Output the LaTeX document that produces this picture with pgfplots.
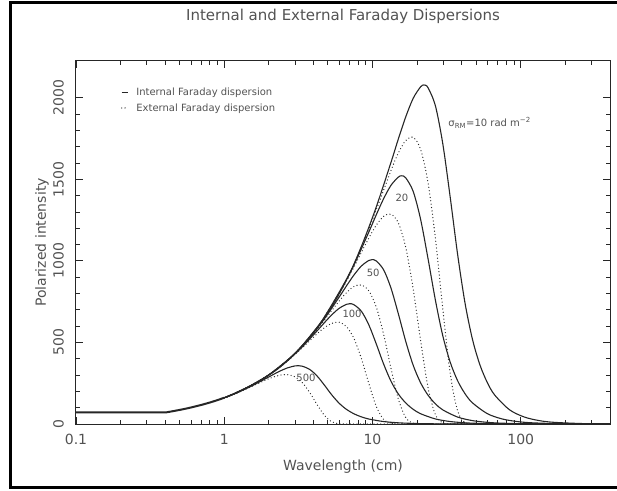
\documentclass[border=0pt]{standalone}
\usepackage{fontspec}
\setmainfont{DejaVu Sans}
\usepackage{pgfplots}
\pgfplotsset{compat=1.18}

\definecolor{ink}{gray}{0.15}
\definecolor{txt}{gray}{0.32}

\pgfplotsset{
  intcurve/.style={draw=ink, line width=1.1pt, smooth, no marks},
  extcurve/.style={draw=ink, line width=1.3pt, line cap=round, dash pattern=on 0pt off 3.4pt, smooth, no marks},
}

\begin{document}
\begin{tikzpicture}
\useasboundingbox (0pt,0pt) rectangle (617pt,490pt);
\draw[line width=3pt] (630pt,487.5pt) -- (10.5pt,487.5pt) -- (10.5pt,2.5pt) -- (630pt,2.5pt);
\begin{axis}[
  at={(76pt,66pt)}, anchor=south west,
  scale only axis, width=534pt, height=363pt,
  xmode=log, xmin=0.1, xmax=400, ymin=0, ymax=2225,
  axis line style={ink, line width=1pt},
  tick style={ink, line width=0.8pt},
  tick align=inside,
  major tick length=7pt, minor tick length=4pt,
  xtick={0.1,1,10,100}, xticklabels={0.1,1,10,100},
  minor xtick={0.2,0.3,0.4,0.5,0.6,0.7,0.8,0.9,2,3,4,5,6,7,8,9,20,30,40,50,60,70,80,90,200,300},
  ytick={0,500,1000,1500,2000}, minor y tick num=4,
  /pgf/number format/1000 sep={},
  /pgf/number format/assume math mode=true,
  ticklabel style={font=\fontsize{14}{16}\selectfont, text=txt},
  xticklabel style={anchor=north, inner sep=0pt},
  xticklabel shift=10pt,
  yticklabel style={rotate=90, anchor=south, inner sep=0pt},
  yticklabel shift=12pt,
  xlabel={Wavelength (cm)}, ylabel={Polarized intensity},
  title={Internal and External Faraday Dispersions},
  label style={font=\fontsize{14}{16}\selectfont, text=txt},
  xlabel style={at={(axis description cs:0.5,-0.1185)}, anchor=center},
  ylabel style={at={(axis description cs:-0.0637,0.5)}, anchor=center},
  title style={font=\fontsize{15}{18}\selectfont, text=txt, at={(axis description cs:0.5,1.1074)}, anchor=center},
  legend style={draw=none, fill=none, at={(axis description cs:0.084,0.928)}, anchor=north west,
    font=\fontsize{10}{12}\selectfont, text=txt, row sep=4pt, inner sep=0pt, nodes={inner sep=1pt},
    /tikz/every odd column/.append style={column sep=7pt}},
  legend cell align=left,
  legend image code/.code={\draw[#1] (0pt,0pt) -- (6pt,0pt);},
]
\addlegendimage{intcurve}
\addlegendentry{Internal Faraday dispersion}
\addlegendimage{extcurve}
\addlegendentry{External Faraday dispersion}

% common envelope below 1 cm
\addplot[draw=ink, line width=2pt, no marks, forget plot] coordinates {
 (0.1,72) (0.41,72) (0.45,78.5) (0.5,86.3) (0.55,94.0) (0.6,101.7) (0.7,116.8) (0.8,131.7) (0.9,146.4) (1,161)};

% sigma_RM = 10
\addplot[intcurve, forget plot] coordinates {
 (1,161) (1.678,256.5) (2.659,388.1) (4.215,587.0) (6.677,887.3) (8.409,1088) (10.59,1329) (13.33,1604)
 (14.95,1748) (16.78,1884) (18.83,1997) (21.12,2067) (22.27,2078) (23.70,2061) (26.59,1949) (29.83,1715)
 (33.47,1387) (37.55,1037) (42.14,738.4) (47.28,517.6) (53.05,362.3) (59.53,253.5) (66.77,177.3)
 (84.09,86.9) (105.9,42.5) (133.3,20.8) (167.8,10.2) (265.9,2.45) (400,0.69)};
\addplot[extcurve, forget plot] coordinates {
 (1,161) (1.678,256.5) (2.659,388.1) (4.215,586.7) (6.677,885.7) (8.409,1083) (10.59,1312) (13.33,1554)
 (14.95,1662) (16.78,1738) (18.83,1757) (21.12,1683) (23.70,1479) (26.59,1134) (29.83,700.8) (33.47,307.7)
 (37.55,78.6) (42.14,8.5) (47.28,0.2) (53.05,0) (100,0) (400,0)};

% sigma_RM = 20
\addplot[intcurve, forget plot] coordinates {
 (1,161) (1.186,187.8) (1.880,284.2) (2.980,429.7) (4.723,649.6) (5.946,796.7) (7.485,972.8) (9.423,1174.5)
 (10.57,1279.5) (11.86,1379.3) (13.31,1462.3) (14.94,1513.3) (15.75,1521.4) (16.76,1508.8) (18.80,1426.7)
 (21.10,1255.6) (23.67,1015.4) (26.56,759.5) (29.80,540.6) (33.43,379.0) (37.51,265.2) (42.10,185.5)
 (47.23,129.8) (59.46,63.6) (74.85,31.1) (94.23,15.3) (118.6,7.47) (188.0,1.79) (400,0.17)};
\addplot[extcurve, forget plot] coordinates {
 (1,161) (1.186,187.8) (1.880,284.2) (2.980,429.5) (4.723,648.4) (5.946,792.9) (7.485,960.8) (9.423,1138)
 (10.57,1216.5) (11.86,1272.5) (13.31,1286.5) (14.94,1232.1) (16.76,1082.7) (18.80,830.3) (21.10,513.0)
 (23.67,225.2) (26.56,57.5) (29.80,6.2) (33.43,0.2) (37.51,0) (70,0) (400,0)};

% sigma_RM = 50
\addplot[intcurve, forget plot] coordinates {
 (1,161) (1.189,188.2) (1.884,284.6) (2.987,430.3) (3.761,527.7) (4.733,644.3) (5.960,778.0) (6.687,847.5)
 (7.503,913.6) (8.418,968.6) (9.445,1002.4) (9.959,1007.8) (10.60,999.4) (11.89,945.0) (13.34,831.7)
 (14.97,672.6) (16.80,503.1) (18.85,358.1) (21.15,251.0) (23.73,175.7) (26.62,122.9) (29.87,86.0)
 (37.60,42.2) (47.34,20.6) (59.59,10.1) (75.03,4.95) (118.9,1.19) (400,0.03)};
\addplot[extcurve, forget plot] coordinates {
 (1,161) (1.189,188.2) (1.884,284.6) (2.987,429.5) (3.761,525.2) (4.733,636.4) (5.960,753.8) (6.687,805.8)
 (7.503,842.9) (8.418,852.2) (9.445,816.1) (10.60,717.2) (11.89,550.0) (13.34,339.8) (14.97,149.2)
 (16.80,38.1) (18.85,4.1) (21.15,0.1) (23.73,0) (50,0) (400,0)};

% sigma_RM = 100
\addplot[intcurve, forget plot] coordinates {
 (1,161) (1.332,208.3) (2.112,314.9) (2.659,386.2) (3.348,471.5) (4.215,569.3) (4.728,620.2) (5.305,668.5)
 (5.953,708.8) (6.677,733.5) (7.042,737.5) (7.493,731.3) (8.409,691.5) (9.434,608.6) (10.59,492.2)
 (11.88,368.1) (13.33,262.0) (14.95,183.7) (16.78,128.5) (18.83,89.9) (21.12,62.9) (26.59,30.9)
 (33.47,15.1) (42.14,7.4) (53.05,3.62) (84.09,0.87) (400,0)};
\addplot[extcurve, forget plot] coordinates {
 (1,161) (1.332,208.3) (2.112,314.3) (2.659,384.3) (3.348,465.7) (4.215,551.6) (4.728,589.7) (5.305,616.8)
 (5.953,623.6) (6.677,597.2) (7.493,524.8) (8.409,402.5) (9.434,248.7) (10.59,109.2) (11.88,27.9)
 (13.33,3.0) (14.95,0.1) (16.78,0) (40,0) (400,0)};

% sigma_RM = 500
\addplot[intcurve, forget plot] coordinates {
 (1,161) (1.190,187.3) (1.497,228.6) (1.885,276.1) (2.115,300.7) (2.373,324.2) (2.663,343.7) (2.988,355.7)
 (3.150,357.6) (3.352,354.6) (3.761,335.3) (4.220,295.1) (4.734,238.7) (5.312,178.5) (5.961,127.1)
 (6.688,89.1) (7.504,62.3) (8.420,43.6) (9.447,30.5) (11.89,15.0) (14.97,7.3) (18.85,3.6) (23.74,1.76)
 (37.61,0.42) (400,0)};
\addplot[extcurve, forget plot] coordinates {
 (1,161) (1.190,186.4) (1.497,225.8) (1.885,267.5) (2.115,285.9) (2.373,299.1) (2.663,302.4) (2.988,289.6)
 (3.352,254.5) (3.761,195.2) (4.220,120.6) (4.734,52.9) (5.312,13.5) (5.961,1.5) (6.688,0) (20,0) (400,0)};

\node[anchor=west, font=\fontsize{10}{12}\selectfont, text=txt] at (axis cs:30.8,1845) {σ\textsubscript{RM}=10 rad m\textsuperscript{−2}};
\node[font=\fontsize{10}{12}\selectfont, text=txt] at (axis cs:15.8,1385) {20};
\node[font=\fontsize{10}{12}\selectfont, text=txt] at (axis cs:10.1,925) {50};
\node[font=\fontsize{10}{12}\selectfont, text=txt] at (axis cs:7.28,674) {100};
\node[font=\fontsize{10}{12}\selectfont, text=txt] at (axis cs:3.56,282) {500};
\end{axis}
\end{tikzpicture}
\end{document}
